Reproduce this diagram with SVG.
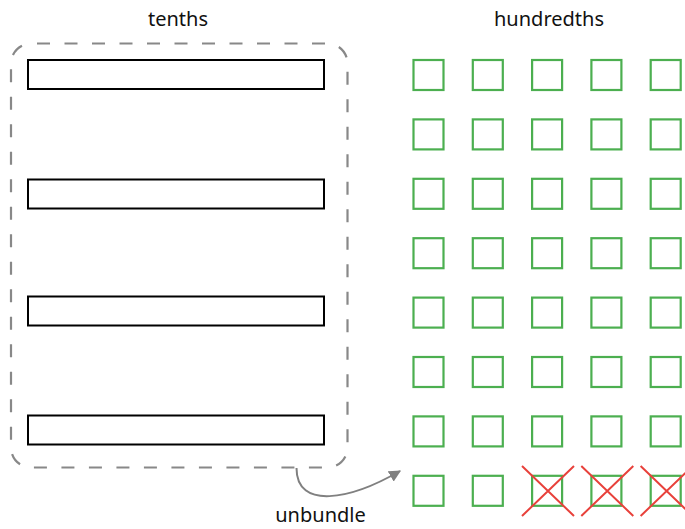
<svg xmlns="http://www.w3.org/2000/svg" width="685" height="529" viewBox="0 0 685 529">
<style>
text{font-family:"Noto Sans","Open Sans",sans-serif;font-size:20px;fill:#111;text-anchor:middle}
.bar{fill:#fff;stroke:#000;stroke-width:2}
.sq{fill:none;stroke:#4caf50;stroke-width:2.2}
.x{stroke:#e8413b;stroke-width:2}
.conn{fill:none;stroke:#808080;stroke-width:2}
</style>
<defs>
<marker id="ah" viewBox="0 0 10 10" refX="9" refY="5" markerWidth="6" markerHeight="6" orient="auto" markerUnits="strokeWidth">
<path d="M0,0 L10,5 L0,10 z" fill="#808080"/>
</marker>
<g id="s"><rect class="sq" x="0" y="0" width="30" height="30"/></g>
</defs>
<rect width="685" height="529" fill="#fff"/>
<g id="tenths">
<rect x="11" y="43.5" width="336.5" height="424" rx="20" fill="none" stroke="#888" stroke-width="2.2" stroke-dasharray="13,14.5" stroke-dashoffset="-6"/>
<text x="178" y="26">tenths</text>
<rect class="bar" x="28" y="60" width="296" height="29"/>
<rect class="bar" x="28" y="179.5" width="296" height="29"/>
<rect class="bar" x="28" y="296.5" width="296" height="29"/>
<rect class="bar" x="28" y="415.5" width="296" height="29"/>
</g>
<g id="hundredths">
<text x="549" y="26">hundredths</text>
<g transform="translate(413.5,60)">
<use href="#s" x="0" y="0"/><use href="#s" x="59.3" y="0"/><use href="#s" x="118.6" y="0"/><use href="#s" x="177.9" y="0"/><use href="#s" x="237.2" y="0"/>
<use href="#s" x="0" y="59.4"/><use href="#s" x="59.3" y="59.4"/><use href="#s" x="118.6" y="59.4"/><use href="#s" x="177.9" y="59.4"/><use href="#s" x="237.2" y="59.4"/>
<use href="#s" x="0" y="118.8"/><use href="#s" x="59.3" y="118.8"/><use href="#s" x="118.6" y="118.8"/><use href="#s" x="177.9" y="118.8"/><use href="#s" x="237.2" y="118.8"/>
<use href="#s" x="0" y="178.2"/><use href="#s" x="59.3" y="178.2"/><use href="#s" x="118.6" y="178.2"/><use href="#s" x="177.9" y="178.2"/><use href="#s" x="237.2" y="178.2"/>
<use href="#s" x="0" y="237.6"/><use href="#s" x="59.3" y="237.6"/><use href="#s" x="118.6" y="237.6"/><use href="#s" x="177.9" y="237.6"/><use href="#s" x="237.2" y="237.6"/>
<use href="#s" x="0" y="297"/><use href="#s" x="59.3" y="297"/><use href="#s" x="118.6" y="297"/><use href="#s" x="177.9" y="297"/><use href="#s" x="237.2" y="297"/>
<use href="#s" x="0" y="356.4"/><use href="#s" x="59.3" y="356.4"/><use href="#s" x="118.6" y="356.4"/><use href="#s" x="177.9" y="356.4"/><use href="#s" x="237.2" y="356.4"/>
<use href="#s" x="0" y="415.8"/><use href="#s" x="59.3" y="415.8"/><use href="#s" x="118.6" y="415.8"/><use href="#s" x="177.9" y="415.8"/><use href="#s" x="237.2" y="415.8"/>
</g>
<g id="crosses">
<path class="x" d="M522,466 L574,516 M574,466 L522,516"/>
<path class="x" d="M581.3,466 L633.3,516 M633.3,466 L581.3,516"/>
<path class="x" d="M640.6,466 L692.6,516 M692.6,466 L640.6,516"/>
</g>
</g>
<g id="connectors">
<path class="conn" d="M296.5,468 C296.5,510 350,500 400,471" marker-end="url(#ah)"/>
<text x="320.5" y="522">unbundle</text>
</g>
</svg>
